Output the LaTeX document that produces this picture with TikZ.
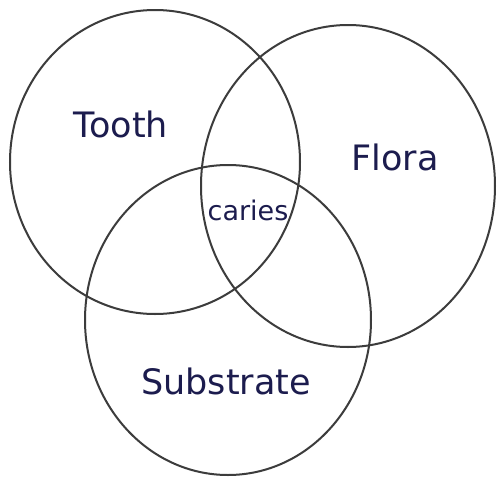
\documentclass[tikz,border=0pt]{standalone}
\usepackage{fontspec}
\setmainfont{DejaVu Sans}
\usetikzlibrary{shapes.geometric}
\definecolor{ink}{HTML}{1C1C4E}
\definecolor{pencil}{HTML}{3C3C3C}
\tikzset{
  setring/.style={draw=pencil, line width=2pt, ellipse, inner sep=0pt},
  setlabel/.style={text=ink, font=\fontsize{35}{40}\selectfont, inner sep=0pt},
  midlabel/.style={text=ink, font=\fontsize{27}{30}\selectfont, inner sep=0pt}
}
\begin{document}
\begin{tikzpicture}[x=1pt,y=-1pt]
\fill[white] (0,0) rectangle (499,485);
\useasboundingbox (0,0) rectangle (499,485);
\node[setring, minimum width=290pt, minimum height=304pt] (tooth) at (155,162) {};
\node[setring, minimum width=294pt, minimum height=322pt] (flora) at (348,186) {};
\node[setring, minimum width=286pt, minimum height=310pt] (substrate) at (228,320) {};
\node[setlabel] (ttooth) at (121,124) {Tooth};
\node[setlabel] (tflora) at (395,157) {Flora};
\node[setlabel] (tsub) at (226,381) {Substrate};
\node[midlabel] (tcaries) at (248,210) {caries};
\end{tikzpicture}
\end{document}
